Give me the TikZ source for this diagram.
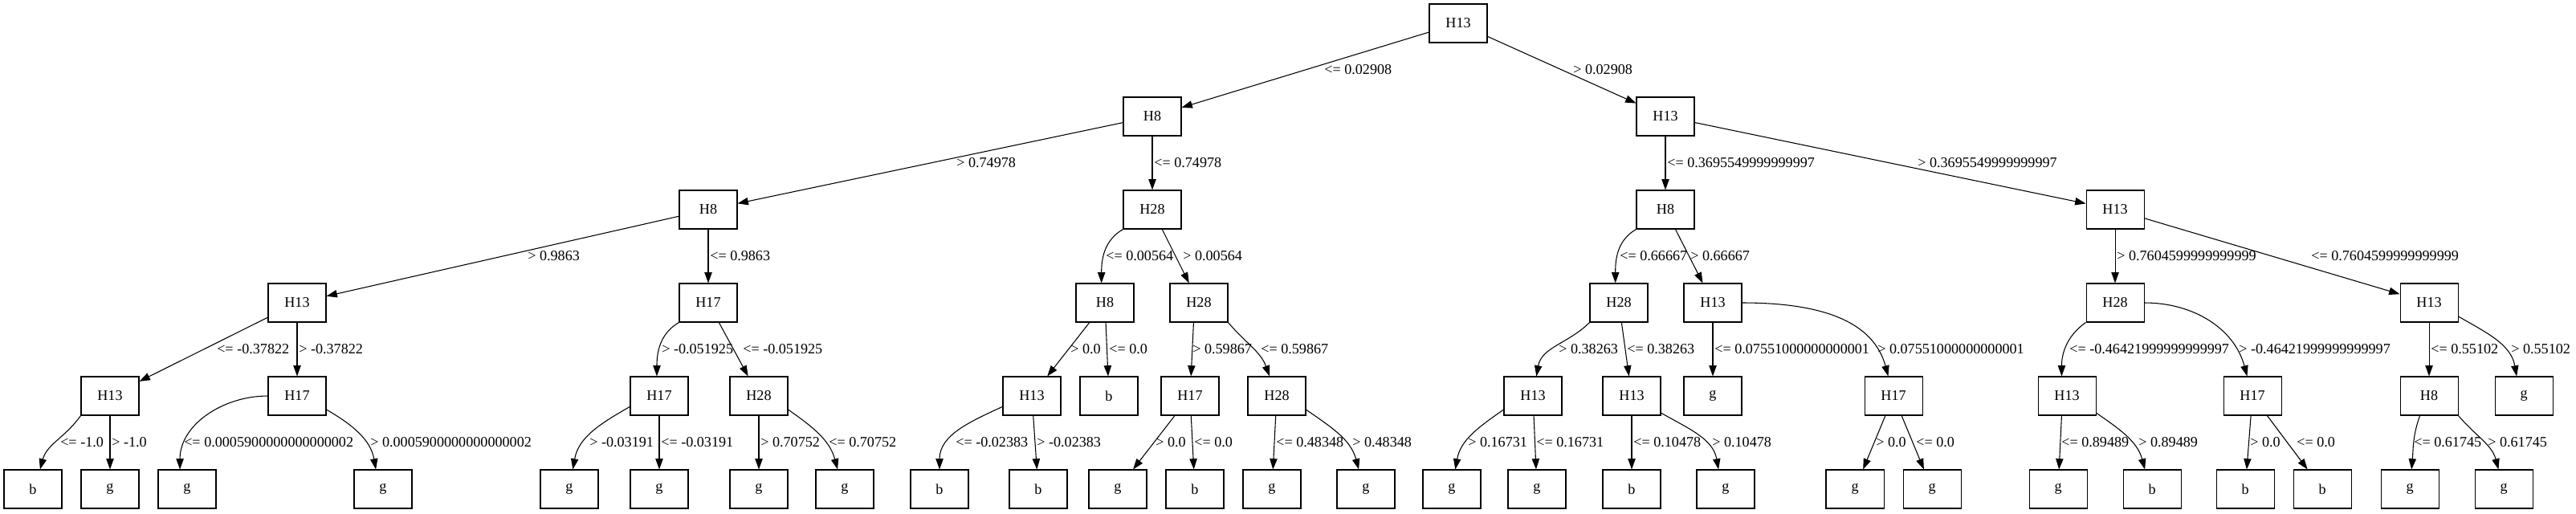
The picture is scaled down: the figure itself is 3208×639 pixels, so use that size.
\documentclass[tikz,border=0pt]{standalone}
\usepackage{fontspec}
\setmainfont{Liberation Serif}
\usetikzlibrary{arrows.meta}

\tikzset{
  dnode/.style={draw, line width=0.8bp, minimum width=54bp, minimum height=36bp, inner sep=0pt},
  branch/.style={-{Triangle[length=10bp,width=7bp]}, line width=0.8bp},
  cond/.style={anchor=west, inner sep=0pt}
}

\begin{document}
\begin{tikzpicture}[x=0.75bp, y=0.75bp, font=\fontsize{13.6bp}{16bp}\selectfont]
\useasboundingbox (0,0) rectangle (3208,-639);

% ranks 0 and 1
\node[dnode] (a1) at (1816,-29) {H13};
\node[dnode] (b1) at (1435,-145) {H8};
\node[dnode] (b2) at (2074,-145) {H13};

% rank 2
\node[dnode] (c1) at (882,-261) {H8};
\node[dnode] (c2) at (1435,-261) {H28};
\node[dnode] (c3) at (2074,-261) {H8};
\node[dnode] (c4) at (2634,-261) {H13};

% rank 3
\node[dnode] (d1) at (370,-377) {H13};
\node[dnode] (d2) at (882,-377) {H17};
\node[dnode] (d3) at (1376,-377) {H8};
\node[dnode] (d4) at (1493,-377) {H28};
\node[dnode] (d5) at (2016,-377) {H28};
\node[dnode] (d6) at (2133,-377) {H13};
\node[dnode] (d7) at (2634,-377) {H28};
\node[dnode] (d8) at (3025,-377) {H13};

% rank 4
\node[dnode] (e1) at (137,-493) {H13};
\node[dnode] (e2) at (370,-493) {H17};
\node[dnode] (e3) at (821,-493) {H17};
\node[dnode] (e4) at (945,-493) {H28};
\node[dnode] (e5) at (1285,-493) {H13};
\node[dnode] (e6) at (1381,-493) {b};
\node[dnode] (e7) at (1482,-493) {H17};
\node[dnode] (e8) at (1590,-493) {H28};
\node[dnode] (e9) at (1909,-493) {H13};
\node[dnode] (e10) at (2032,-493) {H13};
\node[dnode] (e11) at (2133,-493) {g};
\node[dnode] (e12) at (2358,-493) {H17};
\node[dnode] (e13) at (2574,-493) {H13};
\node[dnode] (e14) at (2805,-493) {H17};
\node[dnode] (e15) at (3025,-493) {H8};
\node[dnode] (e16) at (3143,-493) {g};

% rank 5 (leaves)
\node[dnode] (f1) at (41,-609) {b};
\node[dnode] (f2) at (137,-609) {g};
\node[dnode] (f3) at (233,-609) {g};
\node[dnode] (f4) at (477,-609) {g};
\node[dnode] (f5) at (709,-609) {g};
\node[dnode] (f6) at (821,-609) {g};
\node[dnode] (f7) at (945,-609) {g};
\node[dnode] (f8) at (1052,-609) {g};
\node[dnode] (f9) at (1170,-609) {b};
\node[dnode] (f10) at (1293,-609) {b};
\node[dnode] (f11) at (1392,-609) {g};
\node[dnode] (f12) at (1488,-609) {b};
\node[dnode] (f13) at (1584,-609) {g};
\node[dnode] (f14) at (1701,-609) {g};
\node[dnode] (f15) at (1808,-609) {g};
\node[dnode] (f16) at (1914,-609) {g};
\node[dnode] (f17) at (2032,-609) {b};
\node[dnode] (f18) at (2149,-609) {g};
\node[dnode] (f19) at (2310,-609) {g};
\node[dnode] (f20) at (2406,-609) {g};
\node[dnode] (f21) at (2563,-609) {g};
\node[dnode] (f22) at (2680,-609) {b};
\node[dnode] (f23) at (2796,-609) {b};
\node[dnode] (f24) at (2892,-609) {b};
\node[dnode] (f25) at (3001,-609) {g};
\node[dnode] (f26) at (3118,-609) {g};

% rank 0 -> 1
\draw[branch] (a1) -- (b1);  \node[cond] (q1) at (1649,-87) {<= 0.02908};
\draw[branch] (a1) -- (b2);  \node[cond] (q2) at (1959,-87) {> 0.02908};

% rank 1 -> 2
\draw[branch] (b1) -- (c1);  \node[cond] (q3) at (1191,-203) {> 0.74978};
\draw[branch] (b1) -- (c2);  \node[cond] (q4) at (1437,-203) {<= 0.74978};
\draw[branch] (b2) -- (c3);  \node[cond] (q5) at (2076,-203) {<= 0.3695549999999997};
\draw[branch] (b2) -- (c4);  \node[cond] (q6) at (2388,-203) {> 0.3695549999999997};

% rank 2 -> 3
\draw[branch] (c1) -- (d1);  \node[cond] (q7) at (657,-319) {> 0.9863};
\draw[branch] (c1) -- (d2);  \node[cond] (q8) at (884,-319) {<= 0.9863};
\draw[branch] (c2.south west) to[out=-150,in=90] (d3.100);  \node[cond] (q9) at (1377,-319) {<= 0.00564};
\draw[branch] (c2) -- (d4);  \node[cond] (q10) at (1473,-319) {> 0.00564};
\draw[branch] (c3.south west) to[out=-150,in=90] (d5.100);  \node[cond] (q11) at (2017,-319) {<= 0.66667};
\draw[branch] (c3) -- (d6);  \node[cond] (q12) at (2105,-319) {> 0.66667};
\draw[branch] (c4) -- (d7);  \node[cond] (q13) at (2636,-319) {> 0.7604599999999999};
\draw[branch] (c4) -- (d8);  \node[cond] (q14) at (2878,-319) {<= 0.7604599999999999};

% rank 3 -> 4
\draw[branch] (d1) -- (e1);  \node[cond] (q15) at (270,-435) {<= -0.37822};
\draw[branch] (d1) -- (e2);  \node[cond] (q16) at (372,-435) {> -0.37822};
\draw[branch] (d2.south west) to[out=-150,in=90] (e3.97);  \node[cond] (q17) at (824,-435) {> -0.051925};
\draw[branch] (d2) -- (e4);  \node[cond] (q18) at (925,-435) {<= -0.051925};
\draw[branch] (d3) -- (e5);  \node[cond] (q19) at (1333,-435) {> 0.0};
\draw[branch] (d3) -- (e6);  \node[cond] (q20) at (1381,-435) {<= 0.0};
\draw[branch] (d4.-105) -- (e7);  \node[cond] (q21) at (1485,-435) {> 0.59867};
\draw[branch] (d4.south east) to[out=-50,in=110] (e8.110);  \node[cond] (q22) at (1570,-435) {<= 0.59867};
\draw[branch] (d5.south west) to[out=-135,in=80] (e9.80);  \node[cond] (q23) at (1941,-435) {> 0.38263};
\draw[branch] (d5) -- (e10);  \node[cond] (q24) at (2026,-435) {<= 0.38263};
\draw[branch] (d6) -- (e11);  \node[cond] (q25) at (2135,-435) {<= 0.07551000000000001};
\draw[branch] (d6.east) to[out=0,in=105] (e12.105);  \node[cond] (q26) at (2338,-435) {> 0.07551000000000001};
\draw[branch] (d7.south west) to[out=-145,in=90] (e13.105);  \node[cond] (q27) at (2577,-435) {<= -0.46421999999999997};
\draw[branch] (d7.east) to[out=0,in=105] (e14.105);  \node[cond] (q28) at (2788,-435) {> -0.46421999999999997};
\draw[branch] (d8) -- (e15);  \node[cond] (q29) at (3027,-435) {<= 0.55102};
\draw[branch] (d8.-25) to[out=-30,in=100] (e16.110);  \node[cond] (q30) at (3127,-435) {> 0.55102};

% rank 4 -> 5
\draw[branch] (e1.south west) to[out=-125,in=75] (f1.70);  \node[cond] (q31) at (75,-551) {<= -1.0};
\draw[branch] (e1) -- (f2);  \node[cond] (q32) at (139,-551) {> -1.0};
\draw[branch] (e2.west) to[out=180,in=90] (f3.110);  \node[cond] (q33) at (229,-551) {<= 0.0005900000000000002};
\draw[branch] (e2.-25) to[out=-30,in=100] (f4.110);  \node[cond] (q34) at (461,-551) {> 0.0005900000000000002};
\draw[branch] (e3.-160) to[out=-150,in=80] (f5.80);  \node[cond] (q35) at (734,-551) {> -0.03191};
\draw[branch] (e3) -- (f6);  \node[cond] (q36) at (823,-551) {<= -0.03191};
\draw[branch] (e4) -- (f7);  \node[cond] (q37) at (947,-551) {> 0.70752};
\draw[branch] (e4.-25) to[out=-35,in=105] (f8.110);  \node[cond] (q38) at (1032,-551) {<= 0.70752};
\draw[branch] (e5.-160) to[out=-155,in=90] (f9);  \node[cond] (q39) at (1190,-551) {<= -0.02383};
\draw[branch] (e5) -- (f10);  \node[cond] (q40) at (1291,-551) {> -0.02383};
\draw[branch] (e7) -- (f11);  \node[cond] (q41) at (1439,-551) {> 0.0};
\draw[branch] (e7) -- (f12);  \node[cond] (q42) at (1487,-551) {<= 0.0};
\draw[branch] (e8) -- (f13);  \node[cond] (q43) at (1589,-551) {<= 0.48348};
\draw[branch] (e8.-25) to[out=-35,in=105] (f14.110);  \node[cond] (q44) at (1684,-551) {> 0.48348};
\draw[branch] (e9.-155) to[out=-145,in=80] (f15.80);  \node[cond] (q45) at (1828,-551) {> 0.16731};
\draw[branch] (e9) -- (f16);  \node[cond] (q46) at (1913,-551) {<= 0.16731};
\draw[branch] (e10) -- (f17);  \node[cond] (q47) at (2034,-551) {<= 0.10478};
\draw[branch] (e10.-30) to[out=-30,in=100] (f18.110);  \node[cond] (q48) at (2132,-551) {> 0.10478};
\draw[branch] (e12) -- (f19);  \node[cond] (q49) at (2336,-551) {> 0.0};
\draw[branch] (e12) -- (f20);  \node[cond] (q50) at (2386,-551) {<= 0.0};
\draw[branch] (e13.-105) -- (f21);  \node[cond] (q51) at (2567,-551) {<= 0.89489};
\draw[branch] (e13.-30) to[out=-35,in=105] (f22.110);  \node[cond] (q52) at (2663,-551) {> 0.89489};
\draw[branch] (e14) -- (f23);  \node[cond] (q53) at (2802,-551) {> 0.0};
\draw[branch] (e14) -- (f24);  \node[cond] (q54) at (2860,-551) {<= 0.0};
\draw[branch] (e15.-115) to[out=-110,in=85] (f25);  \node[cond] (q55) at (3006,-551) {<= 0.61745};
\draw[branch] (e15.south east) to[out=-50,in=105] (f26.105);  \node[cond] (q56) at (3098,-551) {> 0.61745};
\end{tikzpicture}
\end{document}
